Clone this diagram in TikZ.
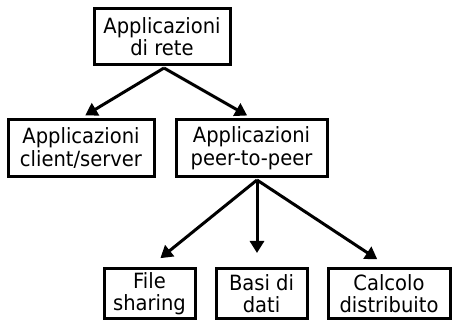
\documentclass[tikz,border=0pt]{standalone}
\usepackage{fontspec}
\setmainfont{DejaVu Sans}[FakeStretch=0.93]
\usetikzlibrary{arrows.meta}
\begin{document}
\begin{tikzpicture}[x=1pt,y=1pt,
  box/.style={draw,line width=3pt,align=center,inner sep=0pt,
    font=\fontsize{21}{22.5}\selectfont},
  arr/.style={line width=3pt,-{Triangle[length=12pt,width=14pt]}}]
\useasboundingbox (0,0) rectangle (453,320);
\node[box,minimum width=136pt,minimum height=56pt] (top) at (162,283.5) {Applicazioni\\di rete};
\node[box,minimum width=146pt,minimum height=57pt] (cs) at (81,172) {Applicazioni\\client/server};
\node[box,minimum width=151pt,minimum height=57pt] (pp) at (251.5,172) {Applicazioni\\peer-to-peer};
\node[box,minimum width=91pt,minimum height=50pt] (fs) at (149.5,26.5) {File\\sharing};
\node[box,minimum width=91pt,minimum height=50pt] (bd) at (261.5,26.5) {Basi di\\dati};
\node[box,minimum width=122pt,minimum height=50pt] (cd) at (389,26.5) {Calcolo\\distribuito};
\coordinate (ta) at (164,252);
\coordinate (pa) at (257,140);
\draw[arr,shorten >=5pt] (ta) -- (cs.north);
\draw[arr,shorten >=5pt] (ta) -- (pp.north);
\draw[arr,shorten >=14pt] (pa) -- (fs.north);
\draw[arr,shorten >=14pt] (pa) -- (pa |- bd.north);
\draw[arr,shorten >=14pt] (pa) -- (cd.north);
\end{tikzpicture}
\end{document}
